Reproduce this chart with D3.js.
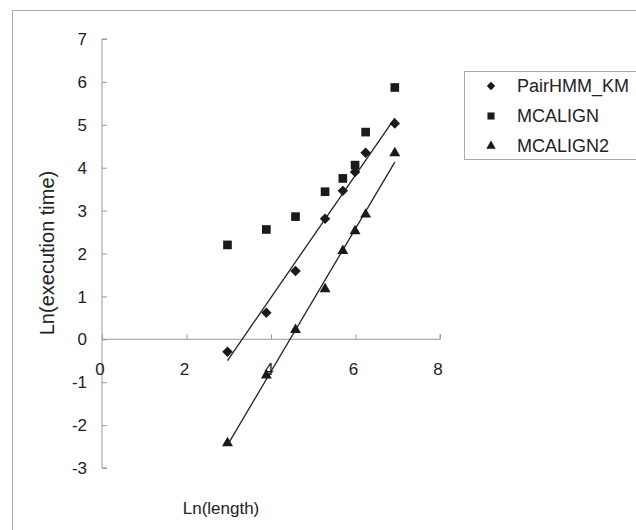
<!DOCTYPE html>
<html>
<head>
<meta charset="utf-8">
<script src="https://cdn.jsdelivr.net/npm/d3@7"></script>
<style>
  body { margin: 0; background: #fff; }
  text { font-family: "Liberation Sans", Arial, sans-serif; fill: #222; }
  .axis path, .axis line { stroke: #999; }
</style>
</head>
<body>
<svg id="chart" width="636" height="530"></svg>
<script>
// Ln(length) for each test case
const lnLength = [2.97, 3.89, 4.58, 5.28, 5.70, 5.99, 6.24, 6.93];
// Ln(execution time) per method
const pairHMM = [-0.29, 0.62, 1.59, 2.81, 3.46, 3.90, 4.35, 5.03];
const mcalign = [2.20, 2.56, 2.86, 3.44, 3.75, 4.06, 4.83, 5.87];
const mcalign2 = [-2.42, -0.84, 0.22, 1.17, 2.06, 2.52, 2.91, 4.34];
const seriesNames = ["PairHMM_KM", "MCALIGN", "MCALIGN2"];
const xTicks = [0, 2, 4, 6, 8];
const yTicks = [-3, -2, -1, 0, 1, 2, 3, 4, 5, 6, 7];

const svg = d3.select("#chart");

// outer chart frame (right and bottom fall outside the picture)
svg.append("path")
  .attr("d", "M12.5,540 L12.5,10.5 L650,10.5")
  .attr("fill", "none")
  .attr("stroke", "#aaa");

const x = d3.scaleLinear().domain([0, 8]).range([102, 440]);
const y = d3.scaleLinear().domain([-3, 7]).range([468, 39]);

// y axis, ticks pointing inward
const yAxis = svg.append("g")
  .attr("class", "axis")
  .attr("transform", `translate(${x(0)},0)`)
  .call(d3.axisRight(y).tickValues(yTicks).tickSize(5).tickFormat(""));
yAxis.select(".domain").attr("d", `M5,${y(7)}H0V${y(-3)}H5`);

yTicks.forEach(t => {
  svg.append("text")
    .attr("x", 87)
    .attr("y", y(t))
    .attr("dy", "0.36em")
    .attr("text-anchor", "end")
    .style("font-size", "17px")
    .text(t);
});

// x axis along y = 0, ticks pointing up
const xAxis = svg.append("g")
  .attr("class", "axis")
  .attr("transform", `translate(0,${y(0)})`)
  .call(d3.axisTop(x).tickValues(xTicks).tickSize(5).tickFormat(""));
xAxis.select(".domain").attr("d", `M${x(0)},0H${x(8)}V-5`);

xTicks.forEach(t => {
  svg.append("text")
    .attr("x", x(t) - 2)
    .attr("y", y(0) + 30)
    .attr("dy", "0.36em")
    .attr("text-anchor", "middle")
    .style("font-size", "17px")
    .text(t);
});

// axis titles
svg.append("text")
  .attr("transform", "translate(47,253) rotate(-90)")
  .attr("dy", "0.36em")
  .attr("text-anchor", "middle")
  .style("font-size", "20px")
  .text("Ln(execution time)");

svg.append("text")
  .attr("x", 221)
  .attr("y", 508)
  .attr("dy", "0.36em")
  .attr("text-anchor", "middle")
  .style("font-size", "17px")
  .text("Ln(length)");

// least squares trend line over the data range
function trend(xs, ys) {
  const mx = d3.mean(xs), my = d3.mean(ys);
  const b = d3.sum(xs, (v, i) => (v - mx) * (ys[i] - my)) / d3.sum(xs, v => (v - mx) ** 2);
  const a = my - b * mx;
  const x0 = d3.min(xs), x1 = d3.max(xs);
  return [[x0, a + b * x0], [x1, a + b * x1]];
}

const line = d3.line().x(d => x(d[0])).y(d => y(d[1]));
[pairHMM, mcalign2].forEach(ys => {
  svg.append("path")
    .attr("d", line(trend(lnLength, ys)))
    .attr("fill", "none")
    .attr("stroke", "#222")
    .attr("stroke-width", 1.3);
});

const shapes = [d3.symbolDiamond2, d3.symbolSquare, d3.symbolTriangle];
const sizes = [70, 75, 52];
const legendSizes = [45, 50, 38];
const allSeries = [pairHMM, mcalign, mcalign2];

allSeries.forEach((ys, k) => {
  svg.append("g")
    .selectAll("path")
    .data(ys)
    .join("path")
    .attr("transform", (d, i) => `translate(${x(lnLength[i])},${y(d)})`)
    .attr("d", d3.symbol().type(shapes[k]).size(sizes[k]))
    .attr("fill", "#1a1a1a");
});

// legend
const legend = svg.append("g");
legend.append("rect")
  .attr("x", 464.5).attr("y", 71.5)
  .attr("width", 200).attr("height", 88)
  .attr("fill", "#fff")
  .attr("stroke", "#aaa");

seriesNames.forEach((name, k) => {
  const ly = 86 + k * 30;
  legend.append("path")
    .attr("transform", `translate(491,${ly})`)
    .attr("d", d3.symbol().type(shapes[k]).size(legendSizes[k]))
    .attr("fill", "#1a1a1a");
  legend.append("text")
    .attr("x", 517)
    .attr("y", ly)
    .attr("dy", "0.36em")
    .style("font-size", "18px")
    .text(name);
});
</script>
</body>
</html>
